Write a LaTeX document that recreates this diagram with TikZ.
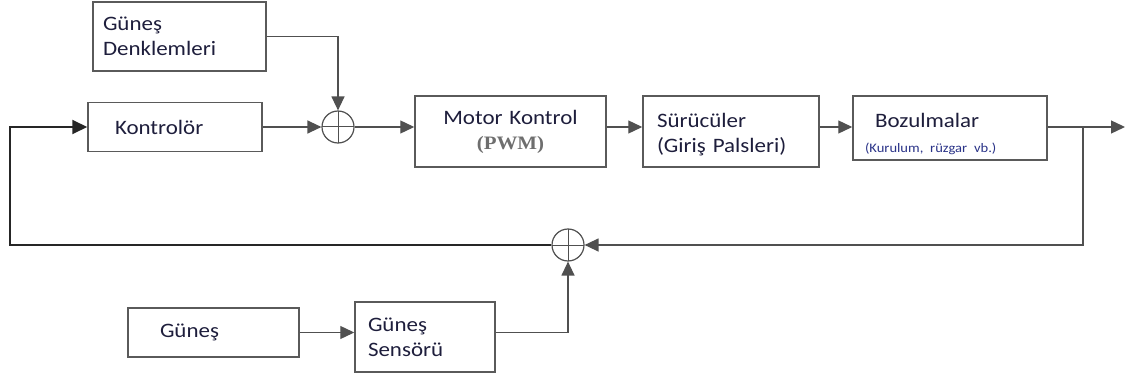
\documentclass[tikz,border=0pt]{standalone}
\usepackage{fontspec}
\setmainfont{Carlito}[FakeStretch=1.12]
\newfontfamily\pwmfont{Liberation Serif}[FakeStretch=1.1]
\usepackage{tikz}
\usetikzlibrary{arrows.meta,calc}
\definecolor{linegray}{HTML}{505050}
\definecolor{boxgray}{HTML}{5A5A5A}
\definecolor{txtdark}{HTML}{1E1E3C}
\definecolor{noteblue}{HTML}{2A3388}
\definecolor{pwmgray}{HTML}{6E6E6E}

\begin{document}
\begin{tikzpicture}[
      x=1pt, y=1pt,
      every node/.style={font=\fontsize{20.5}{25}\selectfont, text=txtdark},
      blk/.style={draw=boxgray, line width=1.5pt, fill=white, align=left, inner ysep=0pt},
      sum/.style={draw=linegray, line width=1.2pt, circle, minimum size=32pt, inner sep=0pt,
        path picture={\draw[linegray, line width=1pt]
          (path picture bounding box.north) -- (path picture bounding box.south)
          (path picture bounding box.west) -- (path picture bounding box.east);}},
      sig/.style={draw=linegray, line width=1.3pt, -{Triangle[length=14pt,width=13pt]}},
      fb/.style={draw=black!85, line width=2pt, -{Triangle[length=15pt,width=14pt]}}
  ]
    \useasboundingbox (0,0) rectangle (1126,378);

    \node[blk, inner xsep=10pt, text width=153pt, minimum height=69pt] (gdenk) at (179.5,341.5)
      {Güneş\\Denklemleri};
    \node[blk, inner xsep=27pt, text width=120pt, minimum height=49pt] (kontrol) at (175,251)
      {Kontrolör};
    \node[sum] (sum1) at (338,251) {};

    \node[blk, align=center, inner xsep=6pt, text width=179pt, minimum height=71pt] (motor) at (510.5,246.5)
      {Motor Kontrol\\{\pwmfont\bfseries\fontsize{19}{24}\selectfont\color{pwmgray}(PWM)}};
    \node[blk, inner xsep=14pt, text width=148pt, minimum height=71pt] (surucu) at (731,246.5)
      {\rule{0pt}{21pt}Sürücüler\\(Giriş Palsleri)};
    \node[blk, inner xsep=12pt, text width=170pt, minimum height=64pt] (bozul) at (950,250)
      {\rule{0pt}{27pt}\hspace*{10pt}Bozulmalar\\{\fontsize{13}{16}\selectfont\color{noteblue}(Kurulum, rüzgar vb.)}};

    \node[sum] (sum2) at (568,133) {};
    \node[blk, inner xsep=32pt, text width=107pt, minimum height=49pt] (gunes) at (213.5,45.5)
      {Güneş};
    \node[blk, inner xsep=13pt, text width=114pt, minimum height=70pt] (sensor) at (425,41)
      {Güneş\\Sensörü};

    \coordinate (br) at (1083,251);
    \coordinate (out) at (1125,251);
    \coordinate (fbl) at (10,133);

    \draw[sig] (gdenk.east) -| (sum1.north);
    \draw[sig] (kontrol.east) -- (sum1);
    \draw[sig] (sum1) -- (sum1 -| motor.west);
    \draw[sig] (motor.east |- sum1) -- (surucu.west |- sum1);
    \draw[sig] (surucu.east |- sum1) -- (bozul.west |- sum1);
    \draw[sig] (bozul.east |- sum1) -- (out);
    \draw[sig] (br) |- (sum2);
    \draw[fb] (sum2) -- (fbl) |- (kontrol);

    \draw[sig] (gunes.east) -- (gunes.east -| sensor.west);
    \draw[sig] (sensor.east |- gunes.east) -| (sum2.south);
  \end{tikzpicture}
\end{document}
